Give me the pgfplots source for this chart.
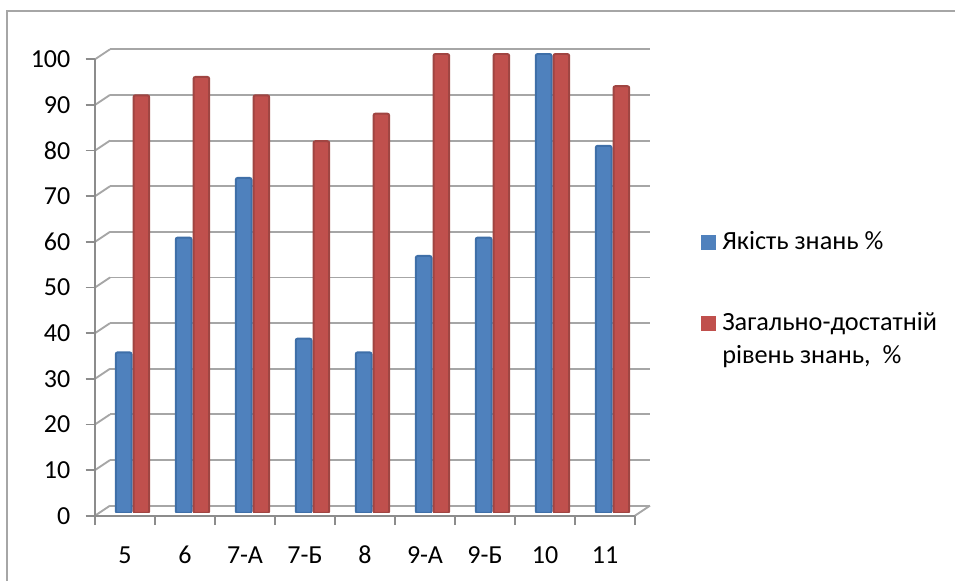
\documentclass[border=0pt]{standalone}
\usepackage{pgfplots}
\pgfplotsset{compat=1.18}
\usepackage{fontspec}
\setmainfont{Carlito}
\definecolor{gridc}{HTML}{A6A6A6}
\definecolor{axisc}{HTML}{8C8C8C}
\definecolor{blueL}{HTML}{3F6FA8}
\definecolor{blueM}{HTML}{4F81BD}
\definecolor{redL}{HTML}{A04542}
\definecolor{redM}{HTML}{C0504D}
\pgfplotstableread{
x blue red
0 35 91
1 60 95
2 73 91
3 38 81
4 35 87
5 56 100
6 60 100
7 100 100
8 80 93
}\datatable
\begin{document}
\begin{tikzpicture}[x=0.75pt,y=0.75pt]
\path[use as bounding box] (0,0) rectangle (955,581);
\draw[color=gridc,line width=1.5pt] (6.5,0) -- (6.5,569.5) -- (955,569.5);
% back wall
\begin{axis}[at={(82.5pt,56.475pt)},anchor=south west,scale only axis,
  width=405pt,height=342.3pt,xmin=-0.5,xmax=8.5,ymin=0,ymax=100,
  hide axis,clip=false]
\pgfplotsinvokeforeach{0,10,...,100}{
  \addplot[gridc,line width=1.4pt] coordinates {(-0.5,#1) (8.5,#1)};
  \draw[gridc,line width=1.4pt] (axis cs:-0.5,#1) -- ++(-11.25pt,-7.5pt);
}
\draw[gridc,line width=1.4pt] (axis cs:8.5,0) -- ++(-11.25pt,-7.5pt);
\end{axis}
% front axes
\begin{axis}[at={(71.25pt,48.975pt)},anchor=south west,scale only axis,
  width=405pt,height=342.3pt,xmin=-0.5,xmax=8.5,ymin=0,ymax=100,
  axis x line=bottom,axis y line=left,
  axis line style={color=axisc,line width=1.4pt,-},
  tick style={color=axisc,line width=1.2pt},
  ytick={0,10,...,100},
  xtick={-0.5,0.5,...,8.5},xticklabels={},
  tick align=outside,major tick length=7pt,
  ticklabel style={font=\fontsize{19.5}{22}\selectfont},
  /pgf/number format/assume math mode=true,
  yticklabel style={xshift=-8pt},
  extra x ticks={0,1,...,8},
  extra x tick labels={5,6,7-А,7-Б,8,9-А,9-Б,10,11},
  extra x tick style={major tick length=0pt,tick label style={yshift=-19pt,text height=13pt,text depth=0pt}},
]
\end{axis}
% bars
\begin{axis}[at={(76.875pt,51pt)},anchor=south west,scale only axis,
  width=405pt,height=344.25pt,xmin=-0.5,xmax=8.5,ymin=0,ymax=100,
  hide axis,ybar=1.5pt,bar width=11.8pt]
\addplot[draw=blueL,line width=1.5pt,fill=blueM,rounded corners=1.5pt] table[x=x,y=blue] {\datatable};
\addplot[draw=redL,line width=1.5pt,fill=redM,rounded corners=1.5pt] table[x=x,y=red] {\datatable};
\end{axis}
\fill[blueM] (701,331) rectangle (716,346);
\fill[redM] (701,250) rectangle (716,265);
\node[anchor=base west,inner sep=0pt,font=\fontsize{19.7}{24.75}\selectfont] at (722,331) {Якість знань \%};
\node[anchor=base west,inner sep=0pt,font=\fontsize{19.7}{24.75}\selectfont] at (722,250) {Загально-достатній};
\node[anchor=base west,inner sep=0pt,font=\fontsize{19.7}{24.75}\selectfont] at (722,217) {рівень знань,\ \ \%};
\end{tikzpicture}
\end{document}
